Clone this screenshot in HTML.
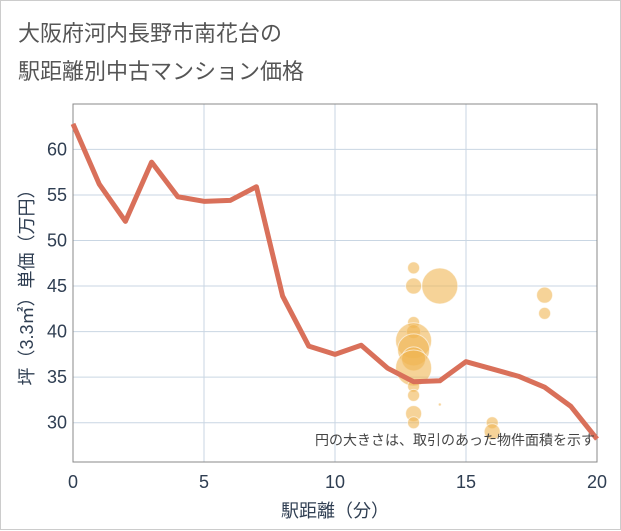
<!DOCTYPE html>
<html><head><meta charset="utf-8"><style>
body{margin:0;background:#fff;}
#wrap{position:relative;width:619px;height:528px;border:1px solid #ccc;background:#fff;font-family:"Liberation Sans","Noto Sans CJK JP",sans-serif;}
#title{position:absolute;left:17px;top:14px;font-size:22px;line-height:38px;color:#555;}
svg{position:absolute;left:0;top:0;}
</style></head><body>
<div id="wrap">
<div id="title">大阪府河内長野市南花台の<br>駅距離別中古マンション価格</div>
<svg id="chart" width="621" height="530"></svg>
</div>
<script>
const lineX=[0,1,2,3,4,5,6,7,8,9,10,11,12,13,14,15,16,17,18,19,20];
const lineY=[62.8,56.2,52.1,58.6,54.8,54.3,54.4,55.9,43.9,38.4,37.5,38.5,36,34.5,34.6,36.7,35.9,35.1,33.9,31.8,28.2];
const bubX=[13,13,14,13,13,13,13,13,13,13,13,13,13,14,16,16,18,18];
const bubY=[47,45,45,41,40,39,38,37,36,34,33,31,30,32,30,29,44,42];
const bubR=[6,8,18,6,7,18,16,12,18,6,6,8,6,1.5,6,8,8,6];
const xTicks=[0,5,10,15,20];
const yTicks=[30,35,40,45,50,55,60];
const NS="http://www.w3.org/2000/svg";
const svg=document.getElementById('chart');
const L=72,R=596,T=103,B=461;
const sx=v=>L+(v-0)/20*(R-L);
const sy=v=>421.7-(v-30)*9.11;
function mk(t,a){const e=document.createElementNS(NS,t);for(const k in a)e.setAttribute(k,a[k]);svg.appendChild(e);return e;}
for(const t of xTicks){
 const g=mk('line',{x1:sx(t),x2:sx(t),y1:T,y2:B,stroke:'#c9d6e3','stroke-width':1});
 
 
 const tx=mk('text',{x:sx(t),y:487,'text-anchor':'middle','font-size':18,fill:'#2f3e52'});
 tx.textContent=t;
 
 
}
for(const t of yTicks){
 const g=mk('line',{x1:L,x2:R,y1:sy(t),y2:sy(t),stroke:'#c9d6e3','stroke-width':1});
 
 
 const tx=mk('text',{x:66,y:sy(t)+6,'text-anchor':'end','font-size':18,fill:'#2f3e52'});
 tx.textContent=t;
 
 
}
const fr=mk('rect',{x:L,y:T,width:R-L,height:B-T,fill:'none',stroke:'#888','stroke-width':1});


bubX.forEach((x,i)=>{
 const c=mk('circle',{cx:sx(x),cy:sy(bubY[i]),r:bubR[i],fill:'#f0b654','fill-opacity':0.6,stroke:'#fff','stroke-opacity':0.6,'stroke-width':1});
 
 
});
const pl=mk('polyline',{points:lineX.map((x,i)=>sx(x)+','+sy(lineY[i])).join(' '),fill:'none',stroke:'#d9705a','stroke-width':5,'stroke-linejoin':'round'});


const note=mk('text',{x:594,y:444,'text-anchor':'end','font-size':14,fill:'#444'});
note.textContent='円の大きさは、取引のあった物件面積を示す';


const xt=mk('text',{x:sx(10),y:516,'text-anchor':'middle','font-size':18,fill:'#2f3e52'});
xt.textContent='駅距離（分）';


const yt=mk('text',{x:0,y:0,'text-anchor':'middle','font-size':18,fill:'#2f3e52',transform:'translate(32,282) rotate(-90)'});
yt.textContent='坪（3.3㎡）単価（万円）';


</script>
</body></html>
